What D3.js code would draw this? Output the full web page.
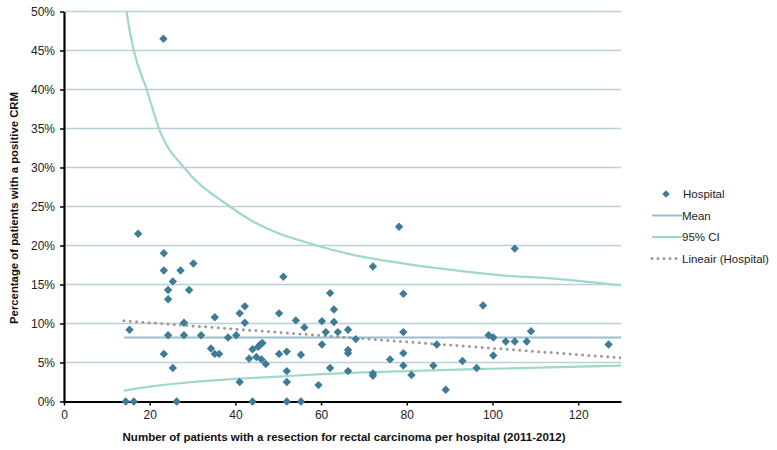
<!DOCTYPE html>
<html>
<head>
<meta charset="utf-8">
<script src="https://cdn.jsdelivr.net/npm/d3@7"></script>
<style>
  body { margin: 0; background: #fff; }
  svg { display: block; font-family: Helvetica, Arial, "Liberation Sans", sans-serif; }
</style>
</head>
<body>
<svg id="chart" width="777" height="450"></svg>
<script>
// hospital volume (n) and percentage positive CRM
const hospN = [14.4, 16.3, 15.3, 17.3, 23.2, 23.3, 23.3, 23.3, 24.3, 24.3, 24.3, 25.4, 25.4, 26.3, 27.2, 28.0, 28.0, 29.2, 30.2, 32.0,
  34.3, 35.2, 35.2, 36.2, 38.3, 40.2, 41.0, 41.0, 42.2, 42.2, 43.2, 44.0, 44.0, 44.9, 45.3, 45.8, 46.3, 46.1, 47.1, 50.2,
  50.2, 51.2, 52.0, 52.0, 52.0, 52.0, 54.1, 55.3, 55.3, 56.1, 59.4, 60.2, 60.2, 61.1, 62.1, 62.1, 63.0, 63.0, 63.9, 66.3,
  66.3, 66.3, 66.3, 68.1, 72.1, 72.1, 72.1, 76.1, 78.2, 79.2, 79.2, 79.2, 79.2, 81.1, 86.2, 87.0, 89.1, 93.0, 96.3, 97.8,
  99.1, 100.2, 100.2, 103.1, 105.2, 105.2, 108.0, 109.0, 127.1];
const hospPct = [0, 0, 9.2, 21.5, 46.5, 19.0, 16.8, 6.1, 14.3, 13.1, 8.5, 15.4, 4.3, 0, 16.8, 10.1, 8.5, 14.3, 17.7, 8.5,
  6.8, 10.8, 6.1, 6.1, 8.2, 8.5, 11.3, 2.5, 12.2, 10.1, 5.5, 6.7, 0, 5.7, 7.0, 7.3, 7.5, 5.4, 4.8, 11.3,
  6.1, 16.0, 6.4, 3.9, 2.5, 0, 10.4, 6.0, 0, 9.5, 2.1, 10.3, 7.3, 8.9, 13.9, 4.3, 11.8, 10.2, 8.9, 9.2,
  6.6, 6.2, 3.9, 8.0, 17.3, 3.6, 3.3, 5.4, 22.4, 13.8, 8.9, 6.2, 4.6, 3.4, 4.6, 7.3, 1.5, 5.2, 4.3, 12.3,
  8.5, 8.2, 5.9, 7.7, 7.7, 19.6, 7.7, 9.0, 7.3];

const meanX = [14, 130];
const meanPct = [8.2, 8.2];

const ciUpperX = [14, 14.6, 16.3, 19.3, 22.5, 28, 38.7, 43.4, 59, 66.7, 78, 90, 101.7, 115.7, 130];
const ciUpperPct = [53, 50, 45, 40, 34.5, 30, 25, 23.3, 20, 18.9, 17.8, 16.9, 16.2, 15.7, 14.9];
const ciLowerX = [14, 20, 30, 40, 50, 60, 80, 100, 130];
const ciLowerPct = [1.4, 1.9, 2.5, 2.9, 3.2, 3.5, 3.9, 4.2, 4.6];

const trendX = [14, 130];
const trendPct = [10.35, 5.6];

const yTicks = [0, 5, 10, 15, 20, 25, 30, 35, 40, 45, 50];
const xTicks = [0, 20, 40, 60, 80, 100, 120];
const legendLabels = ["Hospital", "Mean", "95% CI", "Lineair  (Hospital)"];

const svg = d3.select("#chart");
const x = d3.scaleLinear().domain([0, 130]).range([64, 621]);
const y = d3.scaleLinear().domain([0, 50]).range([401.5, 11.5]);

const gridColor = "#b9cfdb";
const meanColor = "#9fbccc";
const ciColor = "#9dd9c6";
const dotColor = "#3d7b97";
const diamond = "M0,-4.2L4.2,0L0,4.2L-4.2,0Z";

svg.append("defs").append("clipPath").attr("id", "plot")
  .append("rect").attr("x", 64).attr("y", 11.5).attr("width", 557).attr("height", 390);

// gridlines
svg.append("g").selectAll("line")
  .data(yTicks.filter(d => d > 0))
  .enter().append("line")
  .attr("x1", x(0)).attr("x2", x(130))
  .attr("y1", d => y(d)).attr("y2", d => y(d))
  .attr("stroke", gridColor).attr("stroke-width", 1.3);

const plot = svg.append("g").attr("clip-path", "url(#plot)");
const line = (xs, ys, curve) => d3.line().x(i => x(xs[i])).y(i => y(ys[i])).curve(curve)(d3.range(xs.length));

plot.append("path").attr("d", line(meanX, meanPct, d3.curveLinear))
  .attr("fill", "none").attr("stroke", meanColor).attr("stroke-width", 2);
plot.append("path").attr("d", line(ciUpperX, ciUpperPct, d3.curveMonotoneX))
  .attr("fill", "none").attr("stroke", ciColor).attr("stroke-width", 2.2);
plot.append("path").attr("d", line(ciLowerX, ciLowerPct, d3.curveMonotoneX))
  .attr("fill", "none").attr("stroke", ciColor).attr("stroke-width", 2.2);
plot.append("path").attr("d", line(trendX, trendPct, d3.curveLinear))
  .attr("fill", "none").attr("stroke", "#9a9a9a").attr("stroke-width", 3)
  .attr("stroke-linecap", "round").attr("stroke-dasharray", "0 6.3");

// axes
const yAxis = svg.append("g").attr("transform", "translate(64,0)")
  .call(d3.axisLeft(y).tickValues(yTicks).tickFormat(d => d + "%").tickSize(4).tickSizeOuter(0).tickPadding(5));
const xAxis = svg.append("g").attr("transform", "translate(0,401.5)")
  .call(d3.axisBottom(x).tickValues(xTicks).tickSize(4).tickSizeOuter(0).tickPadding(5));
[yAxis, xAxis].forEach(a => {
  a.select(".domain").attr("stroke", "#000").attr("stroke-width", 2.2);
  a.selectAll(".tick line").attr("stroke", "#000").attr("stroke-width", 1.5);
  a.selectAll("text").attr("fill", "#222").style("font-size", "12px");
});

// hospitals
svg.append("g").selectAll("path")
  .data(d3.range(hospN.length))
  .enter().append("path")
  .attr("d", diamond)
  .attr("transform", i => `translate(${x(hospN[i])},${y(hospPct[i])})`)
  .attr("fill", dotColor);

// axis titles
svg.append("text")
  .attr("transform", "translate(18,208) rotate(-90)")
  .attr("text-anchor", "middle")
  .attr("font-weight", "bold").style("font-size", "11px").attr("fill", "#111")
  .attr("textLength", 232).attr("lengthAdjust", "spacingAndGlyphs")
  .text("Percentage of patients with a positive CRM");
svg.append("text")
  .attr("x", 344).attr("y", 441)
  .attr("text-anchor", "middle")
  .attr("font-weight", "bold").style("font-size", "11px").attr("fill", "#111")
  .attr("textLength", 443).attr("lengthAdjust", "spacingAndGlyphs")
  .text("Number of patients with a resection for rectal carcinoma per hospital (2011-2012)");

// legend
const legend = svg.append("g").attr("transform", "translate(652,194)");
legendLabels.forEach((label, i) => {
  const g = legend.append("g").attr("transform", `translate(0,${i * 21.5})`);
  if (i === 0) {
    g.append("path").attr("d", diamond).attr("transform", "translate(14,0) scale(0.9)").attr("fill", dotColor);
  } else {
    const ln = g.append("line").attr("x1", 0).attr("x2", 30).attr("y1", 0).attr("y2", 0);
    if (i === 1) ln.attr("stroke", meanColor).attr("stroke-width", 2);
    if (i === 2) ln.attr("stroke", ciColor).attr("stroke-width", 2.2);
    if (i === 3) ln.attr("stroke", "#9a9a9a").attr("stroke-width", 3)
      .attr("stroke-linecap", "round").attr("stroke-dasharray", "0 6");
  }
  g.append("text").attr("x", i === 0 ? 31 : 30).attr("y", 4)
    .style("font-size", "11.5px").attr("fill", "#222").text(label);
});
</script>
</body>
</html>
